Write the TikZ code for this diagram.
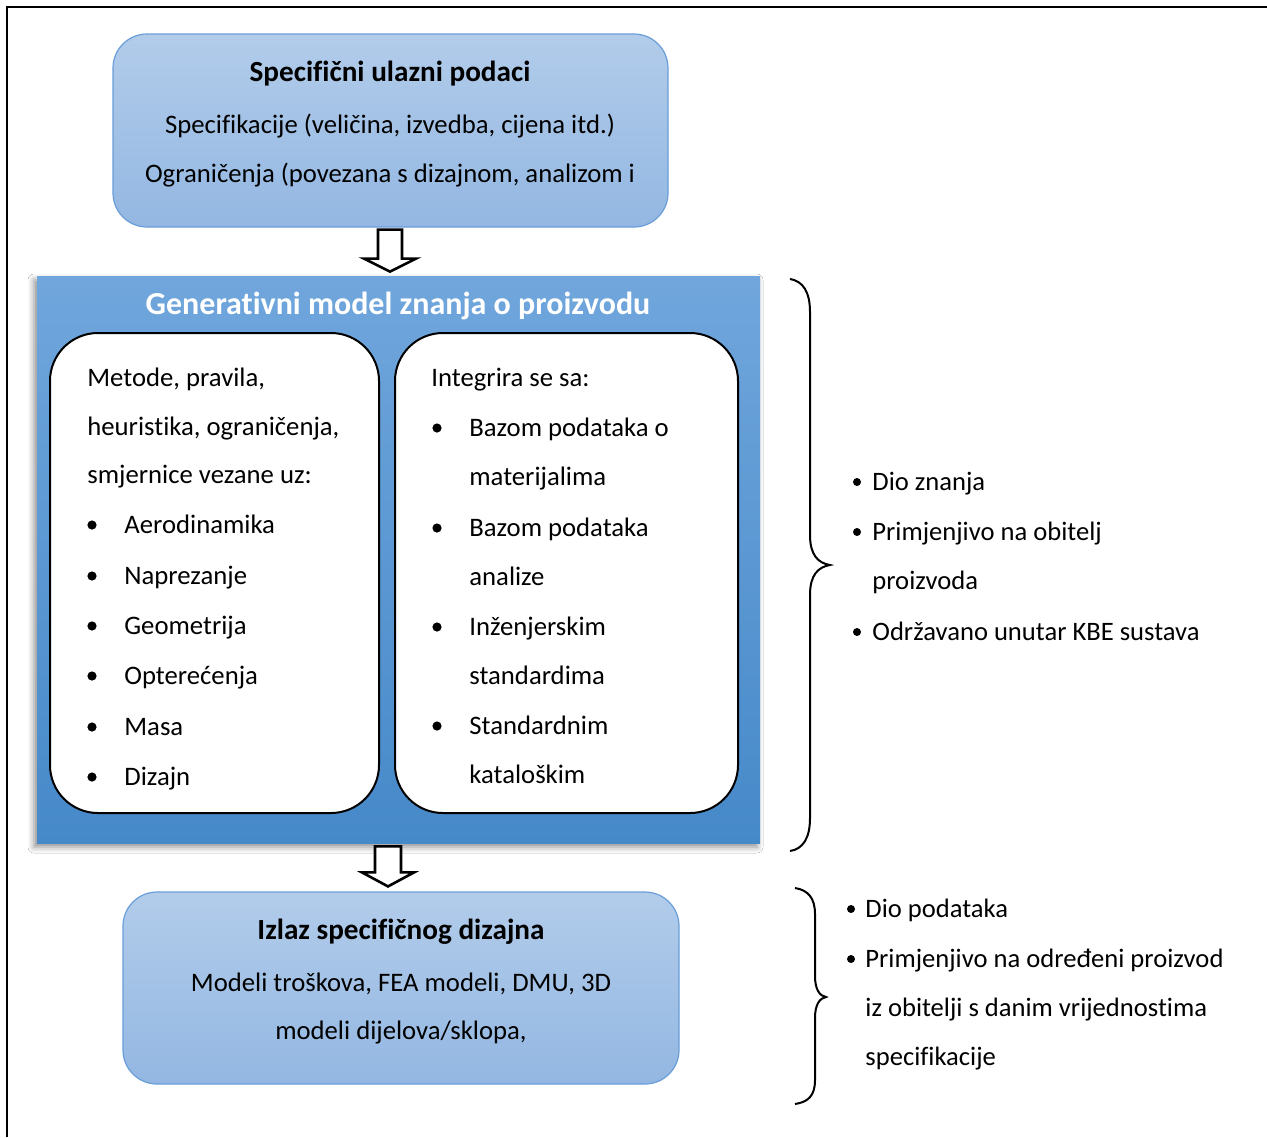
\documentclass[tikz,border=0pt]{standalone}
\usepackage{fontspec}
\setmainfont{Carlito}[Ligatures=NoCommon]
\usetikzlibrary{calc,shadows.blur}
\definecolor{lbTop}{HTML}{B2CCEA}
\definecolor{lbBot}{HTML}{93B7E2}
\definecolor{lbEdge}{HTML}{6A9ED8}
\definecolor{dbTop}{HTML}{70A6DC}
\definecolor{dbBot}{HTML}{4689C9}
\begin{document}
\begin{tikzpicture}[x=0.5pt,y=-0.5pt,
  lightbox/.style={draw=lbEdge, line width=0.6pt, rounded corners=17pt, top color=lbTop, bottom color=lbBot, inner sep=0pt},
  bigbox/.style={top color=dbTop, bottom color=dbBot, inner sep=0pt, minimum width=361.5pt, minimum height=283.5pt,
     blur shadow={shadow xshift=-1.5pt, shadow yshift=-2pt, shadow blur radius=3pt, shadow opacity=45}},
  whitebox/.style={draw=black, line width=1pt, fill=white, rounded corners=24pt, inner sep=0pt, minimum height=240pt},
  txt/.style={inner sep=0pt, anchor=mid, yshift=-2pt, font=\fontsize{13.35}{15}\selectfont},
  ltxt/.style={inner sep=0pt, anchor=mid west, yshift=-2pt, font=\fontsize{13.35}{15}\selectfont},
  ttl/.style={inner sep=0pt, anchor=mid, yshift=-2pt, font=\fontsize{14.6}{16}\selectfont\bfseries},
  bigdot/.style={circle, fill=black, inner sep=0pt, minimum size=4.6pt},
  smalldot/.style={circle, fill=black, inner sep=0pt, minimum size=4pt},
  rtxt/.style={inner sep=0pt, anchor=mid west, yshift=-2pt, font=\fontsize{13.3}{15}\selectfont},
  blockarrow/.style={draw=black, fill=white, line width=1.3pt, line join=miter},
  bracestyle/.style={draw=black, line width=1pt}
]
\useasboundingbox (0,0) rectangle (1267,1137);
\fill[white] (0,0) rectangle (1267,1137);
% outer frame
\draw[line width=1.1pt] (7,1137) -- (7,7) -- (1267,7);

% top box
\node[lightbox, minimum width=277.5pt, minimum height=96.5pt] (top) at (390.5,130.5) {};
\node[ttl] (topT) at (390,73) {Specifični ulazni podaci};
\node[txt] (topA) at (390,125) {Specifikacije (veličina, izvedba, cijena itd.)};
\node[txt] (topB) at (390,174) {Ograničenja (povezana s dizajnom, analizom i};

% big box
\node[bigbox] (big) at (398.5,559.5) {};
\node[inner sep=0pt, anchor=mid, yshift=-2pt, text=white, font=\fontsize{16}{18}\selectfont\bfseries] (bigT) at (398,306) {Generativni model znanja o proizvodu};

% white boxes
\node[whitebox, minimum width=164.5pt] (lbox) at (214.5,573) {};
\node[whitebox, minimum width=171.5pt] (rbox) at (566.5,573) {};

% left text
\node[ltxt] (l1) at (87,378) {Metode, pravila,};
\node[ltxt] (l2) at (87,427) {heuristika, ograničenja,};
\node[ltxt] (l3) at (87,475) {smjernice vezane uz:};
\node[bigdot] (lb1) at (92,525) {};
\node[bigdot] (lb2) at (92,576) {};
\node[bigdot] (lb3) at (92,626) {};
\node[bigdot] (lb4) at (92,676) {};
\node[bigdot] (lb5) at (92,727) {};
\node[bigdot] (lb6) at (92,777) {};
\node[ltxt] (li1) at (124,525) {Aerodinamika};
\node[ltxt] (li2) at (124,576) {Naprezanje};
\node[ltxt] (li3) at (124,626) {Geometrija};
\node[ltxt] (li4) at (124,676) {Opterećenja};
\node[ltxt] (li5) at (124,727) {Masa};
\node[ltxt] (li6) at (124,777) {Dizajn};

% right text
\node[ltxt] (r0) at (431,378) {Integrira se sa:};
\node[bigdot] (rb1) at (437,428) {};
\node[bigdot] (rb2) at (437,528) {};
\node[bigdot] (rb3) at (437,627) {};
\node[bigdot] (rb4) at (437,726) {};
\node[ltxt] (r1) at (469,428) {Bazom podataka o};
\node[ltxt] (r2) at (469,477) {materijalima};
\node[ltxt] (r3) at (469,528) {Bazom podataka};
\node[ltxt] (r4) at (469,577) {analize};
\node[ltxt] (r5) at (469,627) {Inženjerskim};
\node[ltxt] (r6) at (469,676) {standardima};
\node[ltxt] (r7) at (469,726) {Standardnim};
\node[ltxt] (r8) at (469,775) {kataloškim};

% bottom box
\node[lightbox, minimum width=278pt, minimum height=96pt] (bot) at (401,988) {};
\node[ttl] (botT) at (401,931) {Izlaz specifičnog dizajna};
\node[txt] (botA) at (401,983) {Modeli troškova, FEA modeli, DMU, 3D};
\node[txt] (botB) at (401,1031) {modeli dijelova/sklopa,};

% block arrows
\draw[blockarrow] ($(top.south)+(-12.5,2)$) -- ++(0,29) -- ++(-14,0) -- ++(26,13) -- ++(26,-13) -- ++(-14,0) -- ++(0,-29) -- cycle;
\draw[blockarrow] ($(big.south)+(-23.5,3)$) -- ++(0,26) -- ++(-13,0) -- ++(26,14) -- ++(26,-14) -- ++(-13,0) -- ++(0,-26) -- cycle;

% braces
\draw[bracestyle] (790,279) .. controls (803,281) and (810,292) .. (810,312) -- (810,535) .. controls (810,555) and (818,563) .. (830,565) .. controls (818,567) and (810,575) .. (810,595) -- (810,818) .. controls (810,838) and (803,849) .. (790,851);
\draw[bracestyle] (795,888) .. controls (808,890) and (815,898) .. (815,914) -- (815,976) .. controls (815,990) and (820,996) .. (826,997) .. controls (820,998) and (815,1004) .. (815,1018) -- (815,1080) .. controls (815,1096) and (808,1102) .. (795,1104);

% right lists
\node[smalldot] (k1) at (857,482) {};
\node[smalldot] (k2) at (857,532) {};
\node[smalldot] (k3) at (857,632) {};
\node[rtxt] (kt1) at (872,482) {Dio znanja};
\node[rtxt] (kt2) at (872,532) {Primjenjivo na obitelj};
\node[rtxt] (kt3) at (872,581) {proizvoda};
\node[rtxt] (kt4) at (872,632) {Održavano unutar KBE sustava};

\node[smalldot] (d1) at (851,909) {};
\node[smalldot] (d2) at (851,959) {};
\node[rtxt] (dt1) at (865,909) {Dio podataka};
\node[rtxt] (dt2) at (865,959) {Primjenjivo na određeni proizvod};
\node[rtxt] (dt3) at (865,1008) {iz obitelji s danim vrijednostima};
\node[rtxt] (dt4) at (865,1057) {specifikacije};
\end{tikzpicture}
\end{document}
